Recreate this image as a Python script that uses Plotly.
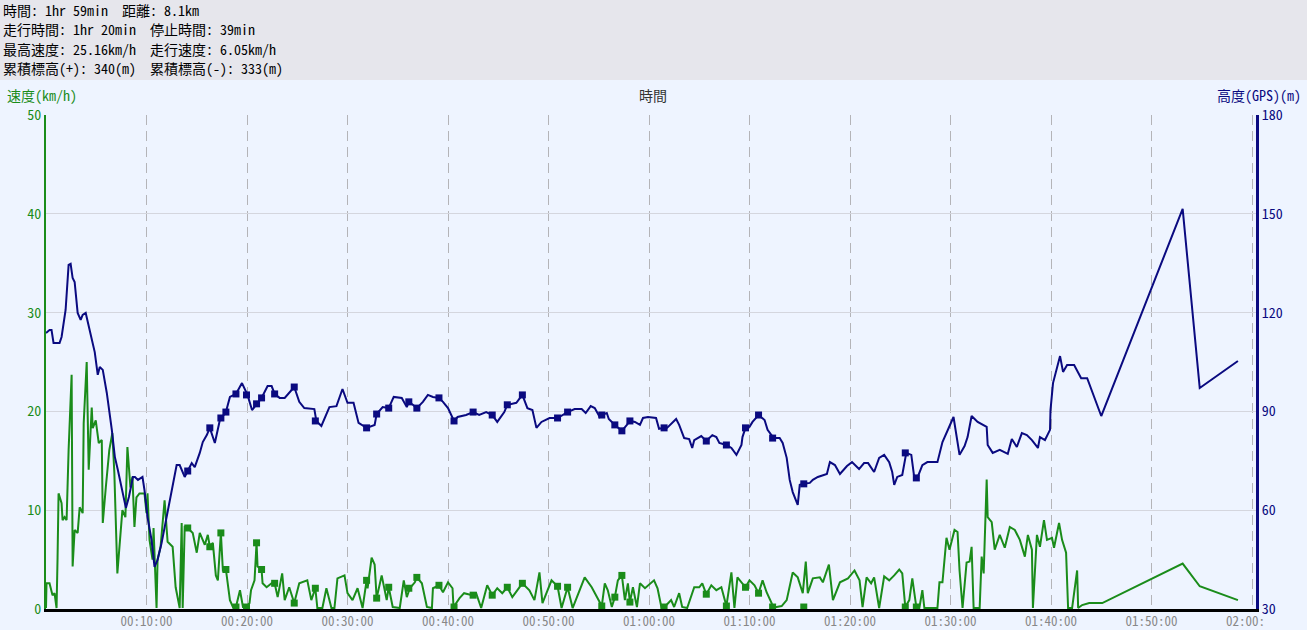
import plotly.graph_objects as go

# ---------------- data ----------------
header_lines = [
    "時間: 1hr 59min  距離: 8.1km",
    "走行時間: 1hr 20min  停止時間: 39min",
    "最高速度: 25.16km/h  走行速度: 6.05km/h",
    "累積標高(+): 340(m)  累積標高(-): 333(m)",
]

# altitude (m) vs elapsed minutes
alt_t = [0.0, 0.35, 0.55, 0.75, 1.35, 1.55, 1.95, 2.25, 2.45, 2.65, 2.85, 3.15, 3.45, 3.65, 3.95, 4.15, 4.55, 4.85,
         5.15, 5.35, 5.65, 6.05, 6.55, 6.85, 7.15, 7.65, 7.95, 8.25, 8.65, 8.85, 9.15, 9.6, 9.8, 10.1, 10.5, 10.8,
         11.1, 11.5, 11.8, 12.3, 12.6, 13.0, 13.3, 13.8, 14.1, 14.5, 14.8, 15.3, 15.6, 16.0, 16.3, 16.8, 17.3, 17.5,
         17.9, 18.3, 18.9, 19.5, 20.05, 20.5, 20.95, 21.45, 22.05, 22.45, 22.75, 23.25, 23.75, 24.7, 25.2, 25.7,
         26.7, 26.9, 27.4, 28.2, 28.9, 29.5, 30.0, 30.6, 31.1, 31.9, 32.7, 32.9, 33.5, 34.1, 34.6, 35.4, 35.9, 36.1,
         36.5, 36.9, 37.5, 38.0, 38.5, 39.1, 39.5, 40.0, 40.6, 40.95, 41.8, 42.5, 43.1, 43.8, 44.4, 44.9, 45.6,
         45.9, 46.8, 47.4, 47.9, 48.4, 48.8, 49.3, 50.1, 50.9, 51.9, 52.6, 53.3, 53.7, 54.2, 54.6, 55.1, 55.3, 55.8,
         56.0, 56.6, 57.3, 57.8, 58.1, 58.6, 59.1, 59.4, 59.9, 60.7, 61.0, 61.5, 61.8, 62.7, 63.0, 63.5, 64.0, 64.3,
         64.5, 65.2, 65.7, 66.3, 66.7, 67.0, 67.7, 68.2, 68.7, 69.2, 69.3, 69.6, 70.0, 70.3, 70.9, 71.5, 71.8, 72.4,
         73.0, 73.3, 73.7, 74.0, 74.3, 74.8, 75.0, 75.4, 76.0, 76.3, 76.8, 77.7, 78.0, 78.5, 79.0, 79.7, 80.2, 80.9,
         81.4, 81.8, 82.4, 82.9, 83.4, 83.9, 84.2, 84.4, 84.7, 85.2, 85.6, 86.1, 86.4, 86.7, 87.2, 87.7, 88.7, 89.2,
         89.9, 90.3, 90.9, 91.4, 91.7, 92.1, 92.7, 93.6, 93.7, 94.2, 94.9, 95.7, 96.1, 96.6, 97.1, 97.6, 98.1, 98.7,
         98.9, 99.4, 99.9, 99.95, 100.2, 100.9, 101.2, 101.6, 102.3, 103.0, 103.6, 105.0, 113.1, 114.8, 118.6]
alt_v = [113.8, 114.7, 114.7, 110.8, 110.8, 112.6, 120.8, 134.5, 134.8, 130.5, 129.3, 119.9, 117.8, 119.3, 119.9,
         117.2, 112.6, 108.0, 101.1, 103.5, 102.6, 95.6, 84.4, 76.2, 72.2, 65.2, 60.7, 64.0, 70.1, 70.1, 69.2, 70.1,
         66.1, 57.9, 51.0, 42.8, 44.9, 50.0, 54.9, 62.2, 68.3, 73.7, 73.7, 70.1, 71.9, 74.3, 73.1, 77.4, 80.7, 82.8,
         85.0, 80.4, 87.4, 88.3, 89.8, 94.4, 95.3, 98.6, 95.0, 90.4, 92.3, 94.1, 97.7, 97.7, 95.3, 94.1, 94.1, 97.4,
         92.9, 91.0, 90.7, 87.1, 85.6, 91.3, 91.6, 96.8, 92.6, 92.6, 86.5, 85.0, 85.9, 89.2, 91.3, 91.0, 94.4, 94.1,
         91.3, 92.9, 92.0, 91.0, 92.9, 95.0, 94.4, 94.1, 92.9, 91.0, 87.1, 88.3, 88.9, 89.8, 88.9, 89.8, 88.9, 86.8,
         89.8, 92.0, 92.6, 95.0, 91.0, 90.4, 85.0, 86.8, 88.0, 88.0, 89.8, 90.7, 90.7, 89.5, 91.6, 91.0, 88.3, 88.9,
         89.5, 87.7, 85.9, 84.1, 85.9, 87.1, 86.8, 85.9, 88.0, 88.3, 88.0, 84.7, 85.0, 85.0, 87.7, 85.9, 81.9, 81.6,
         78.9, 81.3, 82.5, 81.0, 82.8, 82.2, 80.4, 79.8, 78.9, 76.8, 79.8, 82.2, 85.0, 85.3, 86.8, 88.9, 87.4, 84.4,
         81.9, 81.9, 80.4, 75.9, 69.2, 65.5, 61.6, 67.7, 68.0, 68.3, 69.2, 70.1, 71.0, 74.6, 73.7, 71.0, 73.4, 74.6,
         72.5, 74.3, 74.3, 71.6, 75.9, 76.8, 74.6, 71.6, 67.7, 70.1, 70.7, 77.4, 76.8, 69.8, 69.8, 73.7, 74.6, 74.6,
         80.7, 85.3, 88.3, 76.8, 79.5, 82.2, 88.6, 86.8, 85.3, 79.8, 77.4, 78.3, 77.1, 81.6, 79.2, 83.4, 82.8, 81.3,
         78.9, 82.2, 81.3, 84.4, 90.4, 98.6, 106.8, 102.0, 104.1, 104.1, 100.1, 100.1, 88.6, 151.5, 97.1, 105.3]

# speed (km/h) vs elapsed minutes
spd_t = [0.0, 0.05, 0.35, 0.65, 0.85, 1.05, 1.15, 1.25, 1.55, 1.65, 1.85, 2.05, 2.25, 2.55, 2.65, 2.85, 3.15, 3.35,
         3.65, 3.75, 4.05, 4.25, 4.55, 4.65, 4.95, 5.25, 5.55, 5.65, 5.95, 6.3, 6.6, 6.8, 7.1, 7.4, 7.6, 7.9, 8.1,
         8.4, 8.6, 8.8, 9.0, 9.3, 9.8, 10.0, 10.1, 10.3, 10.6, 10.7, 11.0, 11.1, 11.4, 11.8, 12.1, 12.6, 12.9, 13.3,
         13.5, 13.6, 13.8, 14.1, 14.6, 15.0, 15.3, 15.8, 16.1, 16.3, 16.6, 16.9, 17.1, 17.4, 17.6, 17.9, 18.3, 18.6,
         18.9, 19.3, 19.6, 19.95, 20.25, 20.4, 20.75, 20.95, 21.05, 21.45, 21.55, 21.95, 22.45, 22.75, 23.05, 23.5,
         23.75, 24.2, 24.7, 25.2, 26.0, 26.4, 26.8, 27.0, 27.5, 27.9, 28.4, 28.7, 29.0, 29.7, 30.0, 30.5, 31.0, 31.5,
         31.9, 32.0, 32.4, 32.7, 32.9, 33.4, 33.9, 34.1, 34.5, 35.2, 35.6, 35.9, 36.2, 36.7, 36.9, 37.4, 37.9, 38.4,
         38.5, 39.1, 39.5, 40.0, 40.45, 40.55, 41.15, 41.6, 42.4, 42.8, 43.3, 43.9, 44.4, 44.9, 45.4, 45.9, 46.4,
         47.4, 48.1, 48.6, 49.1, 49.4, 50.3, 50.9, 51.3, 51.9, 52.4, 53.6, 54.3, 55.3, 55.6, 55.9, 56.3, 56.6, 56.9,
         57.3, 57.6, 57.9, 58.1, 58.4, 58.8, 59.1, 59.6, 60.5, 60.85, 61.25, 61.55, 62.2, 62.5, 63.0, 63.3, 63.8,
         64.5, 65.0, 65.3, 65.7, 66.2, 66.7, 67.2, 67.7, 68.2, 68.5, 68.8, 69.6, 70.0, 70.5, 70.9, 71.3, 71.7, 72.2,
         72.3, 72.7, 73.2, 73.7, 74.3, 74.8, 75.3, 75.6, 75.8, 76.3, 77.0, 77.3, 77.9, 78.3, 79.0, 79.8, 80.45,
         80.95, 81.25, 81.65, 82.1, 82.4, 82.9, 83.4, 83.9, 84.4, 84.9, 85.2, 85.5, 85.9, 86.2, 86.6, 86.9, 87.2,
         87.4, 88.7, 88.9, 89.2, 89.6, 89.9, 90.4, 90.7, 90.9, 91.2, 91.6, 91.9, 92.1, 92.3, 92.9, 93.1, 93.3, 93.6,
         93.7, 94.1, 94.4, 94.9, 95.4, 95.9, 96.4, 96.9, 97.4, 97.7, 98.1, 98.2, 98.6, 98.9, 99.3, 99.6, 100.1,
         100.3, 100.8, 101.1, 101.5, 101.7, 102.1, 102.6, 102.7, 103.1, 103.8, 105.1, 113.1, 114.8, 118.6]
spd_v = [0.1, 2.6, 2.6, 1.4, 1.6, 0.1, 5.2, 11.7, 10.7, 9.0, 9.3, 9.0, 16.1, 23.7, 4.3, 8.0, 7.7, 10.3, 9.7, 18.8,
         25.0, 14.1, 20.4, 18.3, 19.1, 16.8, 17.1, 8.7, 12.3, 16.1, 17.8, 13.8, 3.6, 8.0, 10.0, 9.3, 16.4, 12.3, 13.4,
         8.3, 11.3, 11.7, 11.7, 9.7, 11.7, 7.0, 5.0, 8.2, 0.1, 5.0, 6.3, 11.0, 6.8, 6.3, 2.2, 0.1, 8.7, 0.1, 8.3, 8.2,
         7.7, 5.7, 7.7, 6.5, 7.5, 6.3, 6.7, 3.4, 2.9, 7.7, 3.9, 4.0, 0.9, 0.2, 0.2, 1.9, 0.2, 0.2, 0.6, 1.9, 2.9, 6.7,
         4.3, 4.0, 2.6, 2.2, 2.6, 2.6, 1.2, 3.6, 0.9, 2.2, 0.6, 2.6, 2.9, 0.9, 2.1, 0.1, 0.1, 2.1, 0.1, 0.1, 3.1, 3.4,
         1.6, 0.9, 2.1, 0.1, 2.9, 2.1, 5.2, 4.5, 1.1, 3.4, 0.9, 2.2, 0.2, 0.1, 2.9, 1.2, 2.1, 2.7, 3.2, 2.6, 0.2, 0.1,
         2.1, 2.4, 1.7, 2.7, 2.1, 0.2, 1.1, 1.6, 1.4, 1.6, 0.1, 2.4, 1.4, 2.1, 1.6, 2.2, 1.2, 2.6, 1.9, 0.9, 3.7, 0.6,
         2.9, 2.3, 0.1, 2.2, 0.1, 3.2, 2.2, 0.3, 2.6, 1.9, 0.2, 1.2, 2.9, 3.4, 0.9, 2.6, 0.7, 2.2, 0.2, 2.6, 2.1, 2.9,
         2.1, 0.1, 0.2, 0.9, 0.2, 1.6, 0.2, 0.1, 2.2, 2.2, 2.6, 1.5, 2.4, 1.9, 2.2, 0.3, 3.7, 0.1, 3.2, 2.2, 2.9, 2.4,
         1.6, 2.9, 1.7, 0.6, 0.2, 0.2, 0.3, 0.9, 3.7, 3.2, 1.6, 4.8, 1.6, 3.1, 3.2, 2.7, 4.5, 0.9, 2.7, 3.1, 3.9, 2.9,
         0.2, 3.2, 2.6, 3.2, 0.1, 3.3, 2.9, 3.4, 4.0, 3.6, 0.2, 0.9, 3.1, 0.2, 0.1, 1.9, 0.1, 0.1, 2.7, 2.7, 7.2, 6.0,
         8.0, 7.8, 3.9, 0.1, 4.7, 4.8, 6.3, 0.1, 0.1, 5.3, 3.6, 13.1, 9.3, 8.8, 6.0, 7.5, 6.2, 8.3, 8.0, 7.0, 5.3, 7.5,
         6.0, 0.1, 7.5, 6.3, 9.0, 7.0, 7.2, 6.2, 8.7, 7.0, 5.7, 0.1, 0.1, 3.9, 0.1, 0.4, 0.6, 0.6, 4.6, 2.3, 0.9]

# square point markers (same samples on both series)
mark_t = [14.1, 16.3, 17.4, 17.9, 18.9, 19.95, 20.95, 21.45, 22.75, 24.7, 26.8, 31.9, 32.9, 34.1, 36.1, 36.9,
          39.1, 40.6, 42.5, 44.4, 45.9, 47.4, 50.9, 51.9, 55.3, 56.6, 57.3, 58.1, 61.5, 65.7, 67.7, 69.6, 70.9,
          72.3, 75.4, 85.5, 86.6]
mark_spd = [8.2, 6.3, 7.7, 4.0, 0.2, 0.2, 6.7, 4.0, 2.6, 0.6, 2.1, 2.9, 1.1, 2.2, 2.1, 3.2, 2.4, 0.2, 1.4, 1.4,
            2.2, 2.6, 2.3, 2.2, 0.3, 1.2, 3.4, 0.7, 0.2, 1.5, 0.3, 2.2, 1.6, 0.2, 0.2, 0.2, 0.2]
mark_alt = [71.9, 85.0, 88.0, 89.8, 95.3, 95.0, 92.3, 94.1, 95.3, 97.4, 87.1, 85.0, 89.2, 91.0, 92.9, 91.0, 94.1,
            87.1, 89.8, 88.9, 92.0, 95.0, 88.0, 89.8, 88.9, 85.9, 84.1, 87.1, 85.0, 81.0, 79.8, 85.0, 88.9, 81.9,
            68.0, 77.4, 69.8]

x_ticks = [10, 20, 30, 40, 50, 60, 70, 80, 90, 100, 110, 120]
x_labels = ["00:10:00", "00:20:00", "00:30:00", "00:40:00", "00:50:00", "01:00:00", "01:10:00",
            "01:20:00", "01:30:00", "01:40:00", "01:50:00", "02:00:\u00a0\u00a0"]

# ---------------- styling ----------------
GREEN = "#1a8c1a"
NAVY = "#0a0a80"
FONT = "Noto Sans Mono CJK JP, Noto Sans CJK JP, monospace"
BG = "#eef4ff"
HEAD_BG = "#e6e6ec"

W, H = 1307, 630
L, R, T, B = 46, 51, 115, 21
pw, ph = W - L - R, H - T - B


def px(xp):
    return (xp - L) / pw


def py(yp):
    return (H - B - yp) / ph


fig = go.Figure()
fig.add_trace(go.Scatter(x=spd_t, y=spd_v, mode="lines", line=dict(color=GREEN, width=2),
                         yaxis="y", hoverinfo="skip", showlegend=False))
fig.add_trace(go.Scatter(x=alt_t, y=alt_v, mode="lines", line=dict(color=NAVY, width=2),
                         yaxis="y2", hoverinfo="skip", showlegend=False))
fig.add_trace(go.Scatter(x=mark_t, y=mark_spd, mode="markers",
                         marker=dict(symbol="square", size=7, color=GREEN),
                         yaxis="y", hoverinfo="skip", showlegend=False))
fig.add_trace(go.Scatter(x=mark_t, y=mark_alt, mode="markers",
                         marker=dict(symbol="square", size=7, color=NAVY),
                         yaxis="y2", hoverinfo="skip", showlegend=False))

shapes = [dict(type="rect", xref="paper", yref="paper", x0=px(0), x1=px(W), y0=py(80), y1=py(0),
               fillcolor=HEAD_BG, line=dict(width=0), layer="below")]

annotations = []
for i, line in enumerate(header_lines):
    annotations.append(dict(text=line, xref="paper", yref="paper", x=px(1), y=py(10 + i * 19.5),
                            xanchor="left", yanchor="middle", showarrow=False,
                            font=dict(family=FONT, size=14, color="#000000")))
annotations += [
    dict(text="速度(km/h)", xref="paper", yref="paper", x=px(5), y=py(95), xanchor="left",
         yanchor="middle", showarrow=False, font=dict(family=FONT, size=14, color=GREEN)),
    dict(text="時間", xref="paper", yref="paper", x=px(653), y=py(95), xanchor="center",
         yanchor="middle", showarrow=False, font=dict(family=FONT, size=14, color="#333333")),
    dict(text="高度(GPS)(m)", xref="paper", yref="paper", x=px(1303), y=py(95), xanchor="right",
         yanchor="middle", showarrow=False, font=dict(family=FONT, size=14, color=NAVY)),
]

fig.update_layout(
    width=W, height=H,
    margin=dict(l=L, r=R, t=T, b=B, pad=0, autoexpand=False),
    paper_bgcolor=BG, plot_bgcolor=BG,
    shapes=shapes, annotations=annotations,
    xaxis=dict(range=[0, (W - L - R) / 10.05], tickvals=x_ticks, ticktext=x_labels, automargin=False,
               showgrid=True, gridcolor="#b4b4b8", griddash="10px,6px", gridwidth=1,
               showline=True, linecolor="#000000", linewidth=3, zeroline=False, ticks="",
               ticklabelstandoff=-2,
               tickfont=dict(family=FONT, size=13, color="#888888")),
    yaxis=dict(range=[0, 50], tickvals=[0, 10, 20, 30, 40, 50], showgrid=True, gridcolor="#d4d6de",
               gridwidth=1, showline=True, linecolor=GREEN, linewidth=2, zeroline=False, ticks="",
               automargin=False, tickfont=dict(family=FONT, size=14, color=GREEN)),
    yaxis2=dict(range=[30, 180], tickvals=[30, 60, 90, 120, 150, 180], overlaying="y", side="right",
                showgrid=False, showline=True, linecolor=NAVY, linewidth=3, zeroline=False, ticks="",
                automargin=False, tickfont=dict(family=FONT, size=14, color=NAVY)),
)

fig.write_html("out.html", config={"displayModeBar": False},
               post_script="document.body.style.margin='0';document.body.style.overflow='hidden';")
